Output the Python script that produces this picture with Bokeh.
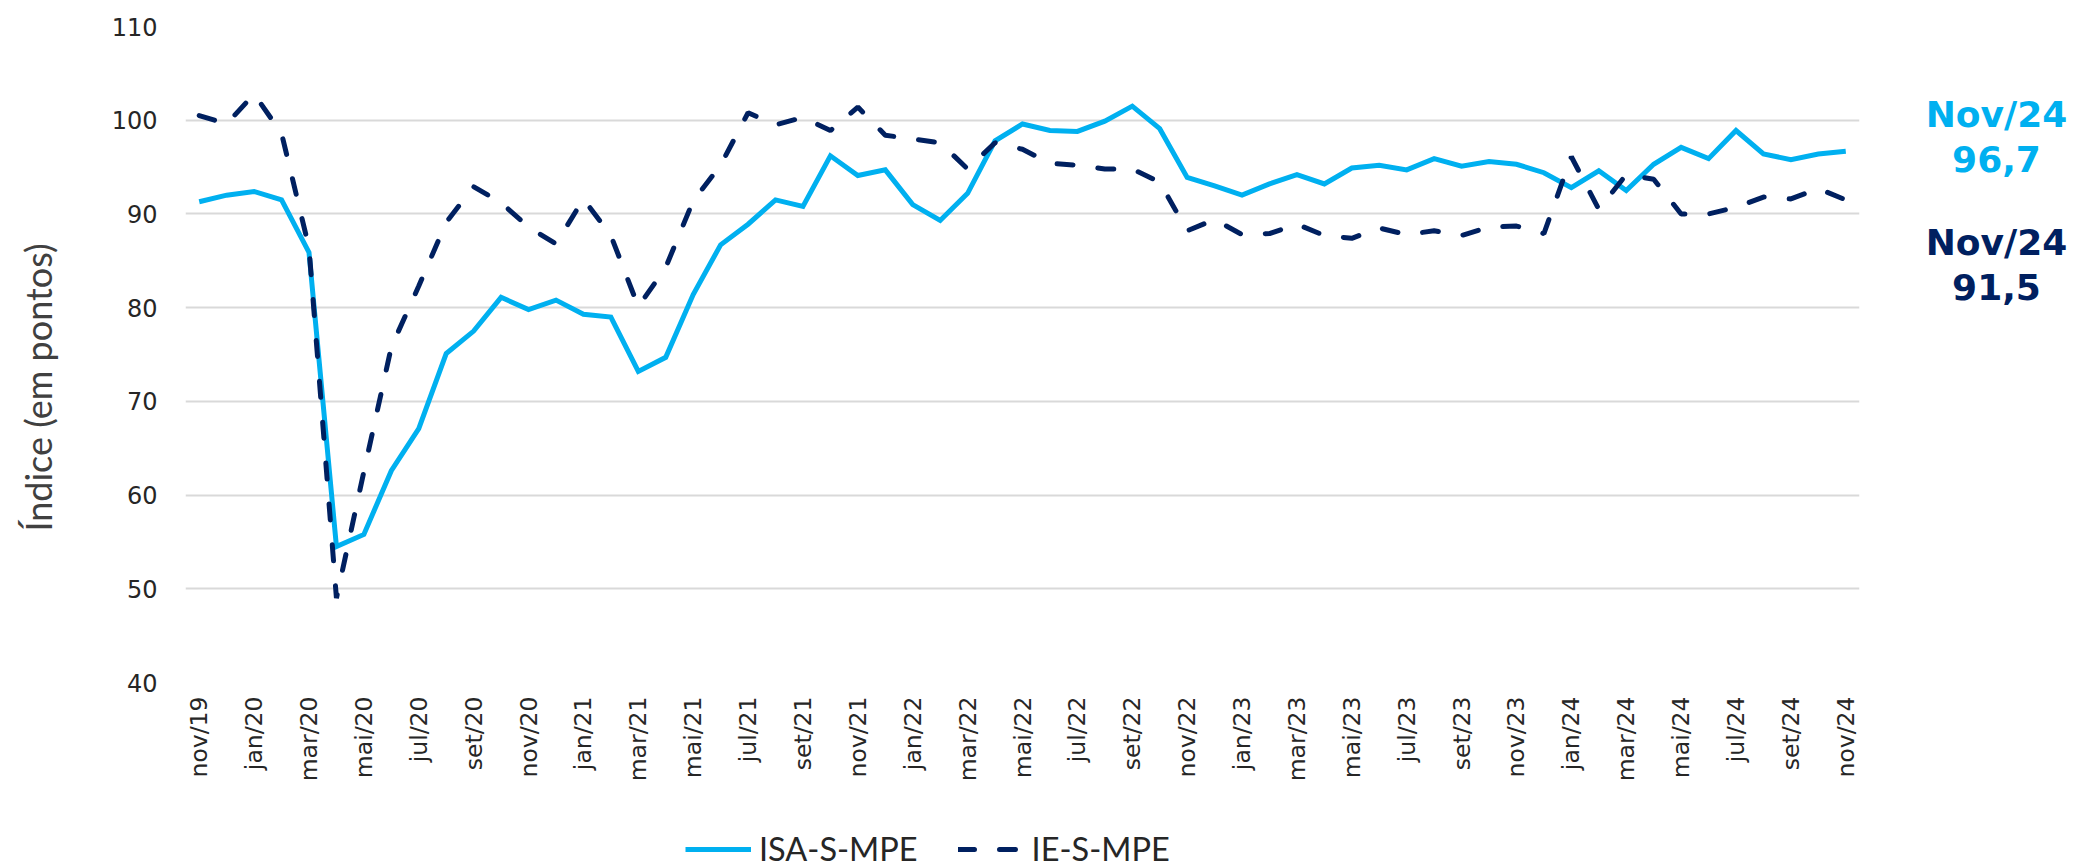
import math
from bokeh.plotting import figure
from bokeh.layouts import row, column
from bokeh.models import ColumnDataSource, FixedTicker, Label, Legend, LegendItem
from bokeh.embed import file_html
from bokeh.resources import INLINE

months = [
    "nov/19", "dez/19",
    "jan/20", "fev/20", "mar/20", "abr/20", "mai/20", "jun/20", "jul/20", "ago/20", "set/20", "out/20", "nov/20", "dez/20",
    "jan/21", "fev/21", "mar/21", "abr/21", "mai/21", "jun/21", "jul/21", "ago/21", "set/21", "out/21", "nov/21", "dez/21",
    "jan/22", "fev/22", "mar/22", "abr/22", "mai/22", "jun/22", "jul/22", "ago/22", "set/22", "out/22", "nov/22", "dez/22",
    "jan/23", "fev/23", "mar/23", "abr/23", "mai/23", "jun/23", "jul/23", "ago/23", "set/23", "out/23", "nov/23", "dez/23",
    "jan/24", "fev/24", "mar/24", "abr/24", "mai/24", "jun/24", "jul/24", "ago/24", "set/24", "out/24", "nov/24",
]

isa_s_mpe = [
    91.3, 92.0,
    92.4, 91.5, 85.9, 54.5, 55.8, 62.6, 67.1, 75.1, 77.5, 81.1, 79.8, 80.8,
    79.3, 79.0, 73.2, 74.7, 81.4, 86.7, 88.9, 91.5, 90.8, 96.2, 94.1, 94.7,
    91.0, 89.3, 92.2, 97.8, 99.6, 98.9, 98.8, 99.9, 101.5, 99.1, 93.9, 93.0,
    92.0, 93.2, 94.2, 93.2, 94.9, 95.2, 94.7, 95.9, 95.1, 95.6, 95.3, 94.4,
    92.8, 94.6, 92.5, 95.3, 97.1, 95.9, 98.9, 96.4, 95.8, 96.4, 96.7,
]

ie_s_mpe = [
    100.5, 99.6,
    102.8, 98.6, 86.4, 49.0, 62.5, 75.8, 82.3, 89.1, 92.9, 91.2, 88.6, 86.8,
    91.6, 87.7, 80.1, 84.3, 91.4, 95.2, 100.8, 99.5, 100.3, 98.9, 101.4, 98.4,
    98.0, 97.6, 94.8, 97.6, 96.9, 95.4, 95.2, 94.8, 94.8, 93.4, 88.2, 89.4,
    87.8, 87.9, 88.9, 87.7, 87.4, 88.5, 87.8, 88.2, 87.7, 88.6, 88.7, 87.9,
    96.1, 90.5, 94.2, 93.7, 90.0, 90.0, 90.7, 91.8, 91.6, 92.7, 91.5,
]

y_ticks = [40, 50, 60, 70, 80, 90, 100, 110]
series_names = ["ISA-S-MPE", "IE-S-MPE"]
last_labels = ["Nov/24", "Nov/24"]
last_values = ["96,7", "91,5"]
y_title = "Índice (em pontos)"

LIGHT = "#00B0F0"
DARK = "#002060"
NARROW = "Lato"
TICKFONT = "DejaVu Sans"
DASH = "16 25"
TOP_H = 792
BORDER_T, FRAME_H, BORDER_B = 26, 656, 110


def blank(width, height, top=0, bottom=0):
    f = figure(width=width, height=height, output_backend="svg", toolbar_location=None,
               x_axis_location=None, y_axis_location=None,
               x_range=(0, width), y_range=(0, height),
               min_border=0, min_border_left=0, min_border_right=0,
               min_border_top=top, min_border_bottom=bottom)
    f.outline_line_color = None
    f.grid.visible = False
    return f


# ---------------- main chart ----------------
x = list(range(len(months)))
src = ColumnDataSource(dict(x=x, isa=isa_s_mpe, ie=ie_s_mpe))

p = figure(frame_width=1674, frame_height=FRAME_H,
           x_range=(-0.5, len(months) - 0.5), y_range=(y_ticks[0], y_ticks[-1]),
           output_backend="svg", toolbar_location=None,
           min_border_left=89, min_border_right=8, min_border_top=BORDER_T, min_border_bottom=BORDER_B)
p.outline_line_color = None

r1 = p.line("x", "isa", source=src, line_color=LIGHT, line_width=5, line_join="miter")
r2 = p.line("x", "ie", source=src, line_color=DARK, line_width=5, line_dash=DASH, line_cap="round")

tick_idx = list(range(0, len(months), 2))
p.xaxis.ticker = FixedTicker(ticks=tick_idx)
p.xaxis.major_label_overrides = {i: months[i] for i in tick_idx}
p.xaxis.major_label_orientation = math.pi / 2
p.yaxis.ticker = FixedTicker(ticks=y_ticks)
for ax in (p.xaxis[0], p.yaxis[0]):
    ax.axis_line_color = None
    ax.major_tick_line_color = None
    ax.minor_tick_line_color = None
    ax.major_tick_out = 0
    ax.major_tick_in = 0
    ax.major_label_text_font = TICKFONT
    ax.major_label_text_color = "#262626"
p.yaxis.major_label_text_font_size = "24px"
p.yaxis.major_label_standoff = 28
p.xaxis.major_label_text_font_size = "23.5px"
p.xaxis.major_label_standoff = 14

p.xgrid.visible = False
p.ygrid.ticker = FixedTicker(ticks=y_ticks)
p.ygrid.grid_line_color = "#D9D9D9"
p.ygrid.grid_line_width = 2

frame_bottom = BORDER_T + FRAME_H  # page y of the frame's bottom edge

# ---------------- left: axis title ----------------
left = blank(96, TOP_H, BORDER_T, BORDER_B)
left.add_layout(Label(x=37, y=frame_bottom - 387, x_units="screen", y_units="screen", text=y_title,
                      angle=math.pi / 2, text_align="center", text_baseline="middle",
                      text_font=NARROW, text_font_size="36px", text_color="#404040"))

# ---------------- right: last values ----------------
right = blank(208, TOP_H, BORDER_T, BORDER_B)
pos = [(114, 158), (242, 286)]
for (t1, t2), c, lab, val in zip(pos, [LIGHT, DARK], last_labels, last_values):
    for yy, t in ((t1, lab), (t2, val)):
        right.add_layout(Label(x=129, y=frame_bottom - yy, x_units="screen", y_units="screen", text=t,
                               text_align="center", text_baseline="middle", text_font=TICKFONT,
                               text_font_style="bold", text_font_size="36px", text_color=c))

# ---------------- bottom: legend ----------------
bottom = blank(2075, 868 - TOP_H)
key = ColumnDataSource(dict(x=[0.0], y=[float("nan")]))
l1 = bottom.line("x", "y", source=key, line_color=LIGHT, line_width=5)
l2 = bottom.line("x", "y", source=key, line_color=DARK, line_width=5, line_dash=DASH, line_cap="round")
legend = Legend(items=[LegendItem(label=series_names[0], renderers=[l1]),
                       LegendItem(label=series_names[1], renderers=[l2])],
                location=(685, 0), orientation="horizontal",
                glyph_width=66, glyph_height=28, label_height=28, label_standoff=8, spacing=40,
                padding=0, margin=0, border_line_color=None, background_fill_alpha=0,
                label_text_font=NARROW, label_text_font_size="32.5px", label_text_color="#262626")
bottom.add_layout(legend)

layout = column(row(left, p, right, spacing=0), bottom, spacing=0)
open("out.html", "w").write(file_html(layout, INLINE))
